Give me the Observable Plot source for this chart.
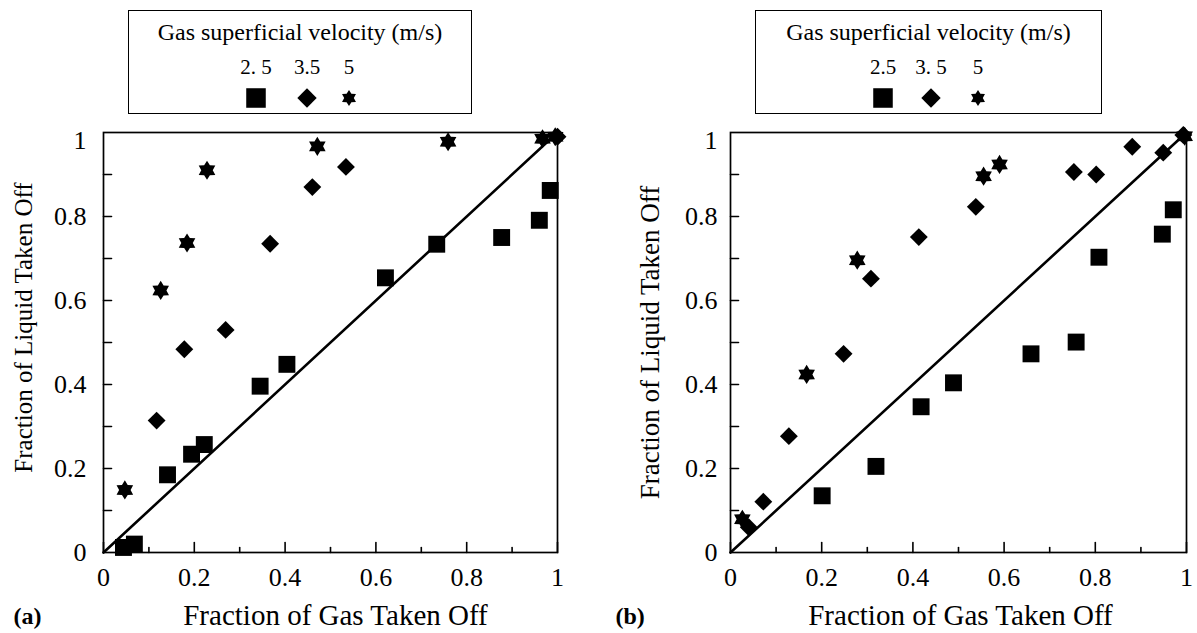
<!DOCTYPE html>
<html>
<head>
<meta charset="utf-8">
<script src="https://cdn.jsdelivr.net/npm/d3@7"></script>
<script src="https://cdn.jsdelivr.net/npm/@observablehq/plot@0.6"></script>
<style>
  html, body { margin: 0; padding: 0; background: #fff; }
  #wrap { position: relative; width: 1197px; height: 633px; overflow: hidden;
          font-family: "Liberation Serif", "Times New Roman", serif; color: #000; }
  .panel { position: absolute; top: 0; }
  .panel svg { overflow: visible; }
  .legend { position: absolute; top: 10px; height: 104px; box-sizing: border-box;
            border: 1.6px solid #000; background: #fff; z-index: 2; }
  .legend .ttl { position: absolute; left: 0; right: 0; top: 9px; text-align: center;
                 font-size: 24px; line-height: 24px; white-space: nowrap; }
  .legend .lab { position: absolute; top: 45px; width: 60px; margin-left: -30px;
                 text-align: center; font-size: 21px; line-height: 22px; white-space: pre; }
  .legend svg.sym { position: absolute; top: 75px; width: 24px; height: 24px; margin-left: -12px; overflow: visible; }
</style>
</head>
<body>
<div id="wrap"></div>
<script>
// ---------------- data ----------------
const legendTitle = "Gas superficial velocity (m/s)";
const velocities = ["2.5", "3.5", "5"];
const legendLabelsA = ["2. 5", "3.5", "5"];
const legendLabelsB = ["2.5", "3. 5", "5"];
const xTitle = "Fraction of Gas Taken Off";
const yTitle = "Fraction of Liquid Taken Off";
const panelTags = ["(a)", "(b)"];
const majorTicks = [0, 0.2, 0.4, 0.6, 0.8, 1];
const tickLabels = ["0", "0.2", "0.4", "0.6", "0.8", "1"];
const minorTicks = [0.1, 0.3, 0.5, 0.7, 0.9];
const yTicks = [0.1, 0.2, 0.3, 0.4, 0.5, 0.6, 0.7, 0.8, 0.9];
const diagonal = [0, 1];

// Panel (a): velocity 2.5, 3.5, 5 m/s
const a25Gas = [0.044, 0.068, 0.141, 0.194, 0.222, 0.345, 0.404, 0.621, 0.734, 0.877, 0.960, 0.984];
const a25Liq = [0.012, 0.020, 0.185, 0.234, 0.257, 0.396, 0.448, 0.654, 0.734, 0.750, 0.791, 0.862];
const a35Gas = [0.117, 0.178, 0.269, 0.367, 0.460, 0.534, 1.000];
const a35Liq = [0.314, 0.484, 0.530, 0.735, 0.870, 0.918, 0.990];
const a5Gas  = [0.047, 0.126, 0.184, 0.228, 0.471, 0.759, 0.967, 0.995];
const a5Liq  = [0.149, 0.624, 0.737, 0.910, 0.967, 0.978, 0.985, 0.990];

// Panel (b)
const b25Gas = [0.201, 0.319, 0.418, 0.489, 0.659, 0.758, 0.808, 0.947, 0.971];
const b25Liq = [0.135, 0.205, 0.347, 0.404, 0.473, 0.501, 0.703, 0.758, 0.816];
const b35Gas = [0.040, 0.072, 0.128, 0.248, 0.308, 0.413, 0.538, 0.753, 0.802, 0.881, 0.949, 0.993];
const b35Liq = [0.060, 0.121, 0.277, 0.473, 0.652, 0.751, 0.823, 0.906, 0.900, 0.966, 0.952, 0.994];
const b5Gas  = [0.026, 0.167, 0.278, 0.555, 0.590, 0.996];
const b5Liq  = [0.079, 0.424, 0.696, 0.896, 0.924, 0.991];

// ---------------- symbols ----------------
const symSquare = { draw(ctx, size) { const h = Math.sqrt(size) * 0.53; ctx.rect(-h, -h, 2 * h, 2 * h); } };
const symDiamond = { draw(ctx, size) { const h = Math.sqrt(size) * 0.56;
  ctx.moveTo(0, -h); ctx.lineTo(h, 0); ctx.lineTo(0, h); ctx.lineTo(-h, 0); ctx.closePath(); } };
const symStar = { draw(ctx, size) { const R = Math.sqrt(size) * 0.6, r = R * 0.6;
  for (let i = 0; i < 12; i++) {
    const a = -Math.PI / 2 + i * Math.PI / 6, rr = i % 2 === 0 ? R : r;
    const px = rr * Math.cos(a), py = rr * Math.sin(a);
    if (i === 0) ctx.moveTo(px, py); else ctx.lineTo(px, py);
  }
  ctx.closePath(); } };
const symbols = [symSquare, symDiamond, symStar];

const tickShape = { draw(ctx, l) { ctx.moveTo(0, 0); ctx.lineTo(0, -l); } };

// ---------------- panel builder ----------------
function panel(cfg) {
  const series = cfg.series;
  const fmt = d => tickLabels[majorTicks.indexOf(d)];
  const marks = [
    Plot.line(diagonal, { x: d => d, y: d => d, stroke: "#000", strokeWidth: 2.6 }),
    Plot.frame({ stroke: "#000", strokeWidth: 1.7 }),
    Plot.vector(majorTicks, { x: d => d, y: 0, length: 10, rotate: 0, anchor: "start", shape: tickShape, stroke: "#000", strokeWidth: 1.6 }),
    Plot.vector(minorTicks, { x: d => d, y: 0, length: 5, rotate: 0, anchor: "start", shape: tickShape, stroke: "#000", strokeWidth: 1.6 }),
    Plot.vector(yTicks, { x: 0, y: d => d, length: 8, rotate: 90, anchor: "start", shape: tickShape, stroke: "#000", strokeWidth: 1.6 }),
    Plot.axisX({ ticks: majorTicks, tickSize: 0, tickPadding: 15, fontSize: cfg.tickFont, tickFormat: fmt, label: null }),
    Plot.axisY({ ticks: majorTicks.slice(0, 5), tickSize: 0, tickPadding: cfg.yPad, fontSize: cfg.tickFont, tickFormat: fmt, label: null }),
    Plot.axisY({ ticks: [1], tickSize: 0, tickPadding: cfg.yPad, fontSize: cfg.tickFont, dy: 8, tickFormat: fmt, label: null }),
    Plot.text([xTitle], { text: d => d, frameAnchor: "bottom", textAnchor: "middle", dy: 63, dx: cfg.xTitleDx, fontSize: cfg.xTitleFont, lineAnchor: "middle" }),
    Plot.text([yTitle], { text: d => d, frameAnchor: "left", textAnchor: "middle", rotate: -90, dx: -80, dy: cfg.yTitleDy, fontSize: cfg.yTitleFont, lineAnchor: "middle" }),
    Plot.text([cfg.tag], { text: d => d, frameAnchor: "bottom-left", textAnchor: "start", dx: cfg.tagDx, dy: 64, fontSize: 24, fontWeight: "bold", lineAnchor: "middle" })
  ];
  series.forEach((s, k) => {
    marks.push(Plot.dot({ length: s.x.length }, { x: s.x, y: s.y, symbol: symbols[k], r: 9, fill: "#000", stroke: "none" }));
  });
  return Plot.plot({
    width: cfg.width, height: 633,
    marginLeft: cfg.ml, marginRight: cfg.mr, marginTop: 132, marginBottom: 81,
    x: { domain: [0, 1], axis: null },
    y: { domain: [0, 1], axis: null },
    style: { fontFamily: "Liberation Serif, Times New Roman, serif", color: "#000", background: "transparent", overflow: "visible" },
    marks
  });
}

function legend(left, width, labels, labelX) {
  const box = document.createElement("div");
  box.className = "legend";
  box.style.left = left + "px";
  box.style.width = width + "px";
  const t = document.createElement("div");
  t.className = "ttl"; t.textContent = legendTitle;
  box.appendChild(t);
  const symSizes = [340, 300, 180];
  labels.forEach((lab, k) => {
    const d = document.createElement("div");
    d.className = "lab"; d.textContent = lab; d.style.left = labelX[k] + "px";
    box.appendChild(d);
    const svg = d3.create("svg").attr("class", "sym").attr("viewBox", "-12 -12 24 24")
      .style("left", labelX[k] + "px");
    svg.append("path").attr("d", d3.symbol(symbols[k], symSizes[k])()).attr("fill", "#000");
    box.appendChild(svg.node());
  });
  return box;
}

const wrap = document.getElementById("wrap");

const pa = panel({
  width: 598, ml: 103, mr: 41, tickFont: 26, yPad: 17, xTitleFont: 29, xTitleDx: 5, yTitleFont: 25, yTitleDy: -15, tag: panelTags[0], tagDx: -90,
  series: [{ x: a25Gas, y: a25Liq }, { x: a35Gas, y: a35Liq }, { x: a5Gas, y: a5Liq }]
});
const da = document.createElement("div"); da.className = "panel"; da.style.left = "0px"; da.appendChild(pa); wrap.appendChild(da);

const pb = panel({
  width: 599, ml: 132, mr: 11, tickFont: 26, yPad: 13, xTitleFont: 29, xTitleDx: 2, yTitleFont: 27, yTitleDy: 0, tag: panelTags[1], tagDx: -115,
  series: [{ x: b25Gas, y: b25Liq }, { x: b35Gas, y: b35Liq }, { x: b5Gas, y: b5Liq }]
});
const db = document.createElement("div"); db.className = "panel"; db.style.left = "598px"; db.appendChild(pb); wrap.appendChild(db);

wrap.appendChild(legend(128, 344, legendLabelsA, [127, 178, 220]));
wrap.appendChild(legend(755, 347, legendLabelsB, [127, 175, 222]));
</script>
</body>
</html>
